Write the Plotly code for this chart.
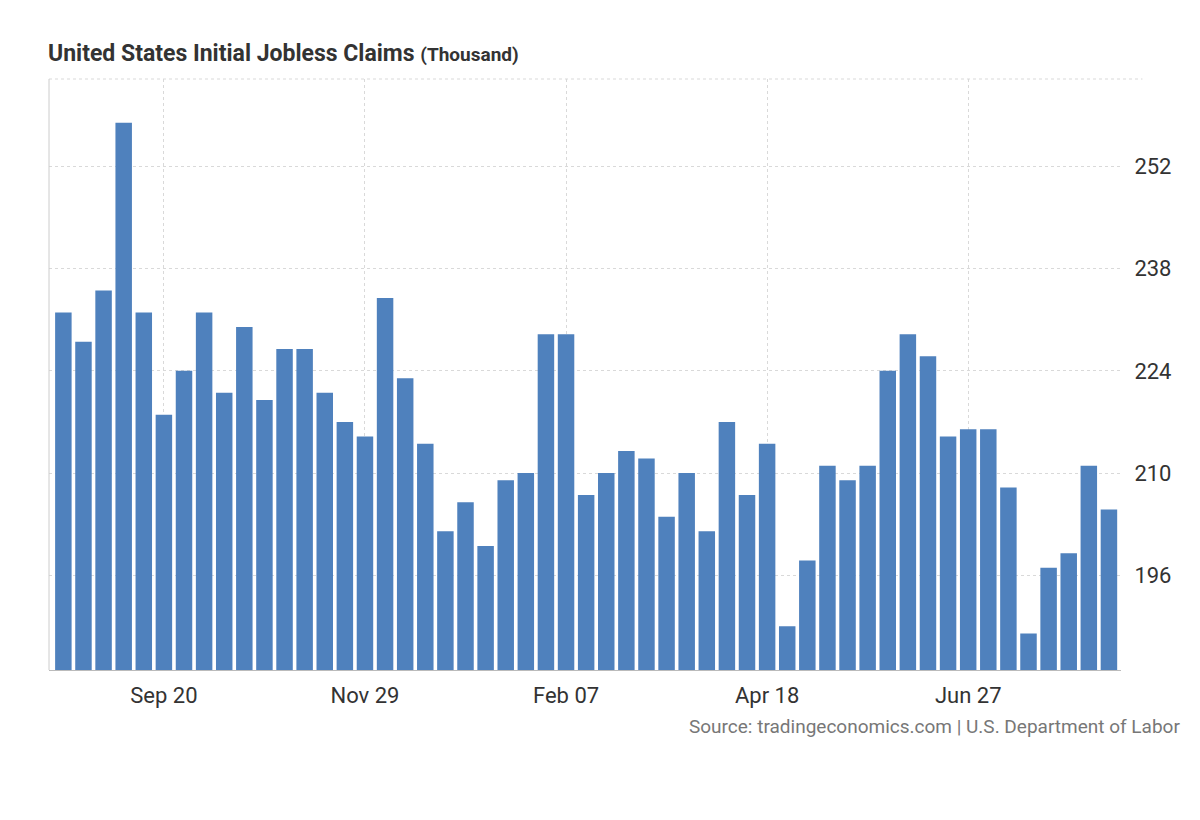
import pandas as pd
import plotly.graph_objects as go

# weekly initial jobless claims, thousands
weeks = pd.date_range("2025-08-16", periods=53, freq="7D")
claims = [232, 228, 235, 258, 232, 218, 224, 232, 221, 230, 220, 227, 227,
          221, 217, 215, 234, 223, 214, 202, 206, 200, 209, 210, 229, 229,
          207, 210, 213, 212, 204, 210, 202, 217, 207, 214, 189, 198, 211,
          209, 211, 224, 229, 226, 215, 216, 216, 208, 188, 197, 199, 211, 205]
tick_dates = ["2025-09-20", "2025-11-29", "2026-02-07", "2026-04-18", "2026-06-27"]
tick_text = ["Sep 20", "Nov 29", "Feb 07", "Apr 18", "Jun 27"]
y_ticks = [196, 210, 224, 238, 252]

fig = go.Figure()
fig.add_trace(go.Bar(x=weeks, y=claims, marker=dict(color="#4f81bd", line=dict(width=0))))

fig.update_layout(
    width=1200, height=820,
    paper_bgcolor="white", plot_bgcolor="white",
    margin=dict(l=41, r=87, t=71, b=158),
    bargap=0.18,
    showlegend=False,
    font=dict(family="Roboto", color="#333"),
    title=dict(text="<b>United States Initial Jobless Claims</b> <span style='font-size:19px'><b>(Thousand)</b></span>",
               x=40 / 1200, xanchor="left", y=0.955, font=dict(size=23, color="#333")),
)
fig.update_xaxes(tickvals=pd.to_datetime(tick_dates), ticktext=tick_text,
                 range=[weeks[0] - pd.Timedelta(days=5), weeks[-1] + pd.Timedelta(days=4.2)],
                 showgrid=True, gridcolor="#d9d9d9", griddash="dot",
                 showline=True, linecolor="#bbb", ticks="outside", ticklen=6, tickcolor="rgba(0,0,0,0)",
                 tickfont=dict(size=22, color="#333"))
fig.update_yaxes(side="right", range=[183, 264], tickvals=y_ticks,
                 showgrid=True, gridcolor="#d9d9d9", griddash="dot", zeroline=False,
                 ticks="outside", ticklen=8, tickcolor="rgba(0,0,0,0)",
                 tickfont=dict(size=22, color="#333"))
# top grid line and left frame line
fig.add_shape(type="line", xref="paper", yref="paper", x0=0, x1=1.02, y0=1, y1=1,
              line=dict(color="#d9d9d9", dash="dot", width=1))
fig.add_shape(type="line", xref="paper", yref="paper", x0=0, x1=0, y0=0, y1=1,
              line=dict(color="#ccc", width=1))
fig.add_annotation(text="Source: tradingeconomics.com | U.S. Department of Labor",
                   xref="paper", yref="paper", x=1.057, y=-0.118, xanchor="right",
                   showarrow=False, font=dict(size=19, color="#777"))

fig.write_html("out.html")
